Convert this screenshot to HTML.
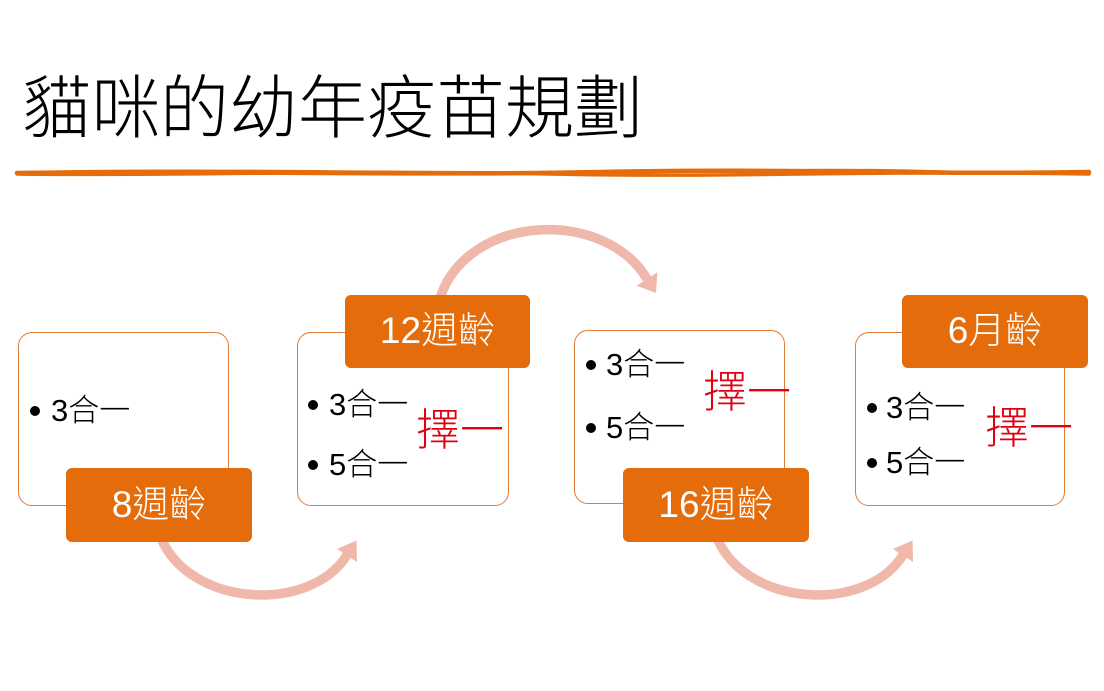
<!DOCTYPE html>
<html>
<head>
<meta charset="utf-8">
<style>
  html, body { margin:0; padding:0; }
  body { width:1104px; height:691px; background:#ffffff; position:relative; overflow:hidden;
         font-family:"Liberation Sans","Noto Sans CJK TC",sans-serif; font-weight:300; }
  .abs { position:absolute; }
  .title { left:22px; top:74px; font-size:69px; line-height:70px; height:70px; color:#000; white-space:nowrap; font-weight:300; }
  .box { position:absolute; background:#fff; border:1px solid #E27A36; border-radius:14px; box-sizing:border-box; }
  .lab { position:absolute; background:#E46C0A; border-radius:6px; color:#fff; font-size:37px;
         text-align:center; white-space:nowrap; }
  .dot { position:absolute; width:10px; height:10px; border-radius:50%; background:#000; }
  .t { position:absolute; font-size:31px; line-height:40px; height:40px; color:#000; white-space:nowrap; }
  .r { position:absolute; font-size:44px; line-height:50px; height:50px; color:#E00012; white-space:nowrap; }
  svg { position:absolute; left:0; top:0; }
</style>
</head>
<body>

<div class="abs title">貓咪的幼年疫苗規劃</div>

<svg width="1104" height="691" style="z-index:0">
  <g fill="none" stroke="#E46C0A" stroke-linecap="round">
    <path d="M17,173 C200,170 400,176 600,172 S900,175 1089,172" stroke-width="4.5"/>
    <path d="M17,174 C150,176 350,170 550,174 S850,170 1089,174" stroke-width="3.5"/>
    <path d="M40,172 C250,168 420,175 700,171 S950,176 1085,173" stroke-width="2.5"/>
  </g>
</svg>

<!-- boxes -->
<div class="box" style="left:18px;top:332px;width:211px;height:174px;"></div>
<div class="box" style="left:297px;top:332px;width:212px;height:174px;"></div>
<div class="box" style="left:574px;top:330px;width:211px;height:174px;"></div>
<div class="box" style="left:855px;top:332px;width:210px;height:174px;"></div>

<!-- arrows -->
<svg width="1104" height="691" style="z-index:1">
  <g fill="none" stroke="#F0B8AA" stroke-width="9.5">
    <path d="M161,538 C190,607 310,614 347,555"/>
    <path d="M717,538 C746,607 866,614 903,555"/>
    <path d="M440,298 C468,213 605,208 647,279"/>
  </g>
  <g fill="#F0B8AA">
    <polygon points="356.5,540.5 357,562 337,549"/>
    <polygon points="912.5,540.5 913,562 893,549"/>
    <polygon points="656,293 657.4,272.3 636.6,285.7"/>
  </g>
</svg>

<!-- labels -->
<div class="lab" style="left:66px;top:468px;width:186px;height:74px;line-height:74px;z-index:2;">8週齡</div>
<div class="lab" style="left:345px;top:295px;width:185px;height:73px;line-height:72px;z-index:2;">12週齡</div>
<div class="lab" style="left:623px;top:468px;width:186px;height:74px;line-height:74px;z-index:2;">16週齡</div>
<div class="lab" style="left:902px;top:295px;width:186px;height:73px;line-height:72px;z-index:2;">6月齡</div>

<!-- box 1 -->
<div class="dot" style="left:30px;top:406px;"></div>
<div class="t" style="left:51px;top:391px;">3合一</div>

<!-- box 2 -->
<div class="dot" style="left:308px;top:400px;"></div>
<div class="t" style="left:329px;top:385px;">3合一</div>
<div class="dot" style="left:308px;top:460px;"></div>
<div class="t" style="left:329px;top:445px;">5合一</div>
<div class="r" style="left:416px;top:406px;">擇一</div>

<!-- box 3 -->
<div class="dot" style="left:586px;top:360px;"></div>
<div class="t" style="left:606px;top:345px;">3合一</div>
<div class="dot" style="left:586px;top:423px;"></div>
<div class="t" style="left:606px;top:408px;">5合一</div>
<div class="r" style="left:703px;top:368px;">擇一</div>

<!-- box 4 -->
<div class="dot" style="left:867px;top:403px;"></div>
<div class="t" style="left:886px;top:388px;">3合一</div>
<div class="dot" style="left:867px;top:458px;"></div>
<div class="t" style="left:886px;top:443px;">5合一</div>
<div class="r" style="left:985px;top:404px;">擇一</div>

</body>
</html>
